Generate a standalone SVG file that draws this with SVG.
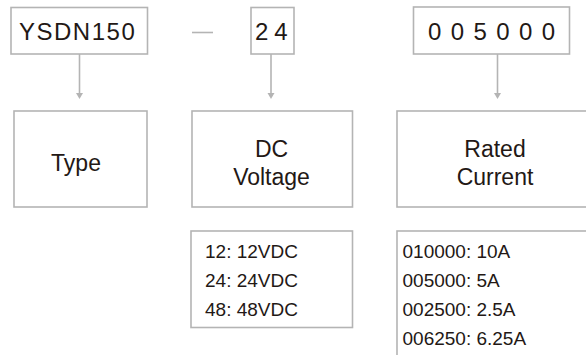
<svg xmlns="http://www.w3.org/2000/svg" width="586" height="355" viewBox="0 0 586 355">
<style>
.box{fill:#fff;stroke:#b4b4b4;stroke-width:1.6}
.t{font-family:"Liberation Sans",Arial,sans-serif;fill:#231815}
.code{font-size:24px}
.lab{font-size:23px;text-anchor:middle}
.lst{font-size:19px}
.con{stroke:#b4b4b4;stroke-width:1.6;fill:none}
.ah{fill:#b4b4b4}
</style>
<rect width="586" height="355" fill="#fff"/>
<g id="connectors">
<line class="con" x1="192" y1="32.5" x2="213" y2="32.5"/>
<line class="con" x1="79.5" y1="54" x2="79.5" y2="94"/>
<path class="ah" d="M76,93 L83,93 L79.5,99 Z"/>
<line class="con" x1="271" y1="54" x2="271" y2="94"/>
<path class="ah" d="M267.5,93 L274.5,93 L271,99 Z"/>
<line class="con" x1="497.5" y1="54" x2="497.5" y2="94"/>
<path class="ah" d="M494,93 L501,93 L497.5,99 Z"/>
</g>
<g id="code-type">
<rect class="box" x="11" y="7.5" width="136.5" height="46.5"/>
<text class="t code" x="19" y="39.5" letter-spacing="1.5">YSDN150</text>
</g>
<g id="code-voltage">
<rect class="box" x="251" y="7.5" width="43" height="46.5"/>
<text class="t code" x="255" y="39.5" letter-spacing="6">24</text>
</g>
<g id="code-current">
<rect class="box" x="413.5" y="7" width="156" height="47"/>
<text class="t code" x="428" y="39.5" letter-spacing="9.4">005000</text>
</g>
<g id="type">
<rect class="box" x="14" y="111" width="133" height="96"/>
<text class="t lab" x="76" y="171">Type</text>
</g>
<g id="dc-voltage">
<rect class="box" x="192" y="111" width="160.5" height="96"/>
<text class="t lab" x="271.5" y="157">DC</text>
<text class="t lab" x="271.5" y="185">Voltage</text>
</g>
<g id="rated-current">
<rect class="box" x="397" y="111" width="205" height="96"/>
<text class="t lab" x="495" y="157">Rated</text>
<text class="t lab" x="495" y="185">Current</text>
</g>
<g id="voltage-list">
<rect class="box" x="191" y="231" width="161.5" height="96.5"/>
<text class="t lst" x="205" y="258">12: 12VDC</text>
<text class="t lst" x="205" y="287">24: 24VDC</text>
<text class="t lst" x="205" y="316">48: 48VDC</text>
</g>
<g id="current-list">
<rect class="box" x="397" y="231" width="205" height="140"/>
<text class="t lst" x="402.5" y="258">010000: 10A</text>
<text class="t lst" x="402.5" y="287">005000: 5A</text>
<text class="t lst" x="402.5" y="316">002500: 2.5A</text>
<text class="t lst" x="402.5" y="345">006250: 6.25A</text>
</g>
</svg>
